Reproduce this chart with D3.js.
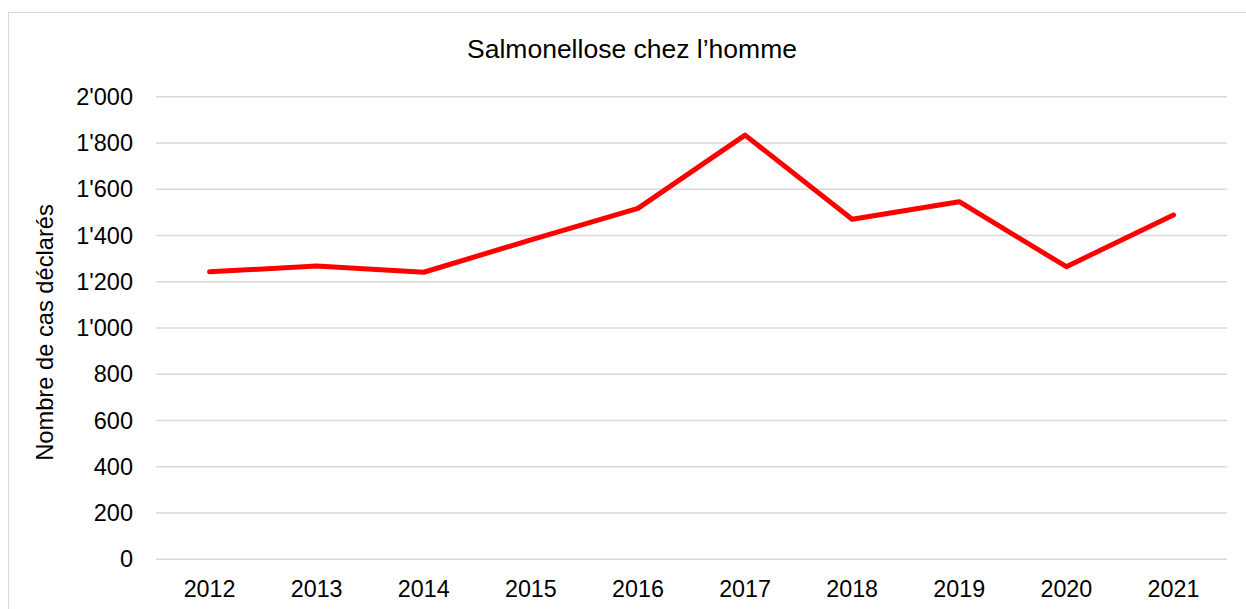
<!DOCTYPE html>
<html>
<head>
<meta charset="utf-8">
<script src="https://cdn.jsdelivr.net/npm/d3@7"></script>
<style>
  body { margin: 0; background: #fff; }
  svg { display: block; font-family: "Liberation Sans", Arial, sans-serif; }
</style>
</head>
<body>
<svg id="chart" width="1246" height="609"></svg>
<script>
// data
const years = ["2012", "2013", "2014", "2015", "2016", "2017", "2018", "2019", "2020", "2021"];
const cases = [1243, 1268, 1241, 1381, 1517, 1834, 1470, 1546, 1265, 1489];
const yTicks = [0, 200, 400, 600, 800, 1000, 1200, 1400, 1600, 1800, 2000];

const svg = d3.select("#chart");
const plotLeft = 156, plotRight = 1227, plotTop = 96.7, plotBottom = 559.3;
const labelFont = "Liberation Sans, Arial, sans-serif";

// outer frame
svg.append("rect")
    .attr("x", 8.5).attr("y", 12.5)
    .attr("width", 1260).attr("height", 620)
    .attr("fill", "none").attr("stroke", "#d9d9d9");

const x = d3.scaleBand().domain(years).range([plotLeft, plotRight]);
const y = d3.scaleLinear().domain([0, 2000]).range([plotBottom, plotTop]);

// gridlines
svg.append("g")
    .selectAll("line").data(yTicks).join("line")
    .attr("x1", plotLeft).attr("x2", plotRight)
    .attr("y1", d => y(d)).attr("y2", d => y(d))
    .attr("stroke", "#d9d9d9").attr("stroke-width", 1.5);

const fmt = d => d3.format(",")(d).replace(/,/g, "'");

// y axis labels
const yAxis = svg.append("g")
    .attr("transform", `translate(${plotLeft},0)`)
    .call(d3.axisLeft(y).tickValues(yTicks).tickFormat(fmt).tickSize(0).tickPadding(23));
yAxis.select(".domain").remove();
yAxis.selectAll("text").attr("font-size", 23.5).attr("fill", "#000")
    .attr("font-family", labelFont);

// x axis labels
const xAxis = svg.append("g")
    .attr("transform", `translate(0,${plotBottom})`)
    .call(d3.axisBottom(x).tickSize(0).tickPadding(21));
xAxis.select(".domain").remove();
xAxis.selectAll("text").attr("font-size", 23.3).attr("fill", "#000")
    .attr("font-family", labelFont);

// the line
const line = d3.line()
    .x((d, i) => x(years[i]) + x.bandwidth() / 2)
    .y(d => y(d));

svg.append("path")
    .datum(cases)
    .attr("d", line)
    .attr("fill", "none")
    .attr("stroke", "#ff0000")
    .attr("stroke-width", 5)
    .attr("stroke-linejoin", "round")
    .attr("stroke-linecap", "round");

// title
svg.append("text")
    .attr("x", 632).attr("y", 58)
    .attr("text-anchor", "middle")
    .attr("font-size", 26.5)
    .text("Salmonellose chez l\u2019homme");

// y axis title
svg.append("text")
    .attr("transform", "translate(53,332.5) rotate(-90)")
    .attr("text-anchor", "middle")
    .attr("font-size", 23.7)
    .text("Nombre de cas déclarés");
</script>
</body>
</html>
